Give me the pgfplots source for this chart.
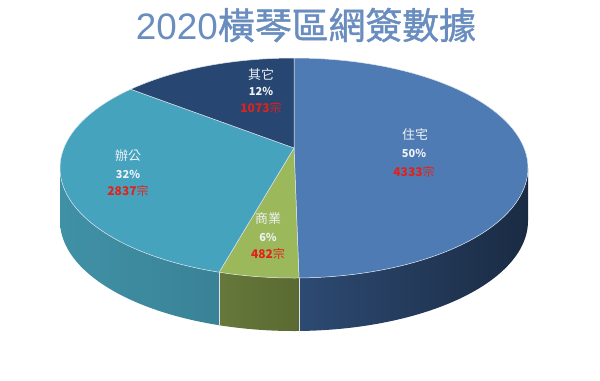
\documentclass[border=0pt]{standalone}
\usepackage{pgfplots}
\usepackage{pgfplotstable}
\pgfplotsset{compat=1.18}
\usepackage{fontspec}
\setmainfont{Noto Sans CJK TC}
\newfontfamily\titlecjk[FakeBold=1.2]{Noto Sans CJK TC}
\newfontfamily\titlelat{Liberation Sans}
\definecolor{titlec}{HTML}{6A8DBF}
\definecolor{topA}{HTML}{4E7BB3}
\definecolor{topB}{HTML}{9BB85A}
\definecolor{topC}{HTML}{46A3BE}
\definecolor{topD}{HTML}{274671}
\definecolor{sideAl}{HTML}{2D4A72}
\definecolor{sideAr}{HTML}{1A2B43}
\definecolor{sideBl}{HTML}{66783B}
\definecolor{sideBr}{HTML}{5A6A32}
\definecolor{sideCl}{HTML}{4091A6}
\definecolor{sideCr}{HTML}{3A8296}
\definecolor{cntred}{HTML}{E0221B}
\definecolor{lbl}{HTML}{EEF2F6}
\definecolor{rim}{HTML}{DCE4EC}

\pgfplotstableread{
key value
zhuzhai 4333
shangye 482
bangong 2837
qita 1073
}\piedata

\begin{document}
\begin{tikzpicture}
\pgfplotstablegetelem{0}{value}\of\piedata \let\vA\pgfplotsretval
\pgfplotstablegetelem{1}{value}\of\piedata \let\vB\pgfplotsretval
\pgfplotstablegetelem{2}{value}\of\piedata \let\vC\pgfplotsretval
\pgfplotstablegetelem{3}{value}\of\piedata \let\vD\pgfplotsretval
\pgfmathsetmacro\tot{\vA+\vB+\vC+\vD}
\pgfmathsetmacro\fA{\vA/\tot}
\pgfmathsetmacro\fB{\vB/\tot}
\pgfmathsetmacro\fC{\vC/\tot}
\pgfmathsetmacro\aA{90}
\pgfmathsetmacro\aB{\aA-360*\fA}
\pgfmathsetmacro\aC{\aB-360*\fB}
\pgfmathsetmacro\aD{\aC-360*\fC}
\pgfmathsetmacro\aE{-270}
\def\cx{294}\def\cy{168}\def\rx{234}\def\ry{110}
\def\px{294}\def\py{148}\def\dep{53}
\begin{axis}[
  width=600bp, height=380bp, scale only axis,
  xmin=0, xmax=600, ymin=0, ymax=380, y dir=reverse,
  hide axis, clip=false]
\path (rel axis cs:0,0) rectangle (rel axis cs:1,1);
% side faces
\shade[left color=sideAl, right color=sideAr]
  plot[domain=\aB:0, samples=60, variable=\t] (axis cs:{\cx+\rx*cos(\t)},{\cy-\ry*sin(\t)})
  -- plot[domain=0:\aB, samples=60, variable=\t] (axis cs:{\cx+\rx*cos(\t)},{\cy+\dep-\ry*sin(\t)}) -- cycle;
\shade[left color=sideBl, right color=sideBr]
  plot[domain=\aC:\aB, samples=20, variable=\t] (axis cs:{\cx+\rx*cos(\t)},{\cy-\ry*sin(\t)})
  -- plot[domain=\aB:\aC, samples=20, variable=\t] (axis cs:{\cx+\rx*cos(\t)},{\cy+\dep-\ry*sin(\t)}) -- cycle;
\shade[left color=sideCl, right color=sideCr]
  plot[domain=-180:\aC, samples=60, variable=\t] (axis cs:{\cx+\rx*cos(\t)},{\cy-\ry*sin(\t)})
  -- plot[domain=\aC:-180, samples=60, variable=\t] (axis cs:{\cx+\rx*cos(\t)},{\cy+\dep-\ry*sin(\t)}) -- cycle;
% side dividers
\draw[rim, line width=0.5pt] (axis cs:{\cx+\rx*cos(\aB)},{\cy-\ry*sin(\aB)}) -- (axis cs:{\cx+\rx*cos(\aB)},{\cy+\dep-\ry*sin(\aB)});
\draw[rim, line width=0.5pt] (axis cs:{\cx+\rx*cos(\aC)},{\cy-\ry*sin(\aC)}) -- (axis cs:{\cx+\rx*cos(\aC)},{\cy+\dep-\ry*sin(\aC)});
% top faces
\filldraw[fill=topA, draw=rim, line width=0.5pt] (axis cs:\px,\py)
  -- plot[domain=\aA:\aB, samples=90, variable=\t] (axis cs:{\cx+\rx*cos(\t)},{\cy-\ry*sin(\t)}) -- cycle;
\filldraw[fill=topB, draw=rim, line width=0.5pt] (axis cs:\px,\py)
  -- plot[domain=\aB:\aC, samples=20, variable=\t] (axis cs:{\cx+\rx*cos(\t)},{\cy-\ry*sin(\t)}) -- cycle;
\filldraw[fill=topC, draw=rim, line width=0.5pt] (axis cs:\px,\py)
  -- plot[domain=\aC:\aD, samples=70, variable=\t] (axis cs:{\cx+\rx*cos(\t)},{\cy-\ry*sin(\t)}) -- cycle;
\filldraw[fill=topD, draw=rim, line width=0.5pt] (axis cs:\px,\py)
  -- plot[domain=\aD:\aE, samples=30, variable=\t] (axis cs:{\cx+\rx*cos(\t)},{\cy-\ry*sin(\t)}) -- cycle;
% labels
\node[text=lbl, font=\fontsize{13}{13}\selectfont] at (axis cs:415,135) {住宅};
\node[text=lbl, font=\fontsize{11}{11}\selectfont\bfseries] at (axis cs:414,153) {50\%};
\node[text=cntred, font=\fontsize{12}{12}\selectfont] at (axis cs:414,172) {\textbf{4333}宗};
\node[text=lbl, font=\fontsize{13}{13}\selectfont] at (axis cs:268,219) {商業};
\node[text=lbl, font=\fontsize{11}{11}\selectfont\bfseries] at (axis cs:268,237) {6\%};
\node[text=cntred, font=\fontsize{12}{12}\selectfont] at (axis cs:268,254) {\textbf{482}宗};
\node[text=lbl, font=\fontsize{13}{13}\selectfont] at (axis cs:128,156) {辦公};
\node[text=lbl, font=\fontsize{11}{11}\selectfont\bfseries] at (axis cs:128,174) {32\%};
\node[text=cntred, font=\fontsize{12}{12}\selectfont] at (axis cs:128,191) {\textbf{2837}宗};
\node[text=lbl, font=\fontsize{13}{13}\selectfont] at (axis cs:261,75) {其它};
\node[text=lbl, font=\fontsize{11}{11}\selectfont\bfseries] at (axis cs:261,91) {12\%};
\node[text=cntred, font=\fontsize{12}{12}\selectfont] at (axis cs:261,108) {\textbf{1073}宗};
% title
\node[text=titlec, font=\fontsize{37}{37}\selectfont, inner sep=0pt] at (axis cs:306,25) {{\titlelat 2020}{\titlecjk 橫琴區網簽數據}};
\end{axis}
\end{tikzpicture}
\end{document}
